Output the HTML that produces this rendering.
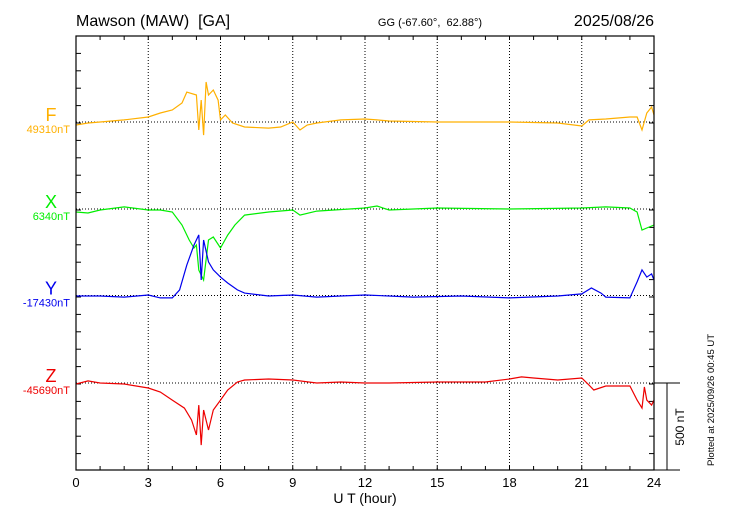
<!DOCTYPE html>
<html><head><meta charset="utf-8"><style>
body{margin:0;background:#fff;}
svg{display:block;font-family:"Liberation Sans",sans-serif;}
text{white-space:pre;}
</style></head><body>
<svg id="c" width="730" height="520" xml:space="preserve">
<text x="76" y="26" font-size="16">Mawson (MAW)  [GA]</text>
<text x="430" y="26" font-size="11" text-anchor="middle">GG (-67.60°,  62.88°)</text>
<text x="654" y="26" font-size="16" text-anchor="end">2025/08/26</text>
<text x="365" y="503" font-size="14" text-anchor="middle">U T (hour)</text>
<text transform="translate(684,427) rotate(-90)" font-size="12" text-anchor="middle">500 nT</text>
<text transform="translate(714,400) rotate(-90)" font-size="9.5" text-anchor="middle">Plotted at 2025/09/26 00:45 UT</text>
</svg>
<script>
const NS='http://www.w3.org/2000/svg';
const svg=document.getElementById('c');
const xTicks=[0,3,6,9,12,15,18,21,24];
const seriesNames=['F','X','Y','Z'];
const seriesColors=['#ffb000','#00ee00','#0000ee','#ee0000'];
const baseLabels=['49310nT','6340nT','-17430nT','-45690nT'];
const fT=[0,0.5,1,2,3,3.5,4,4.4,4.6,5,5.1,5.2,5.3,5.4,5.5,5.7,5.9,6,6.2,6.5,7,8,8.5,9,9.3,9.6,10,11,12,12.5,13,15,18,20,21,21.3,22,23,23.3,23.5,23.7,23.9,24];
const fV=[-17,-6,0,12,29,52,69,109,172,155,-46,126,-75,230,155,184,126,12,40,-6,-29,-35,-29,0,-46,-17,-6,12,17,12,6,0,0,-6,-23,12,17,29,29,-46,52,86,40];
const xT=[0,0.5,1,2,3,3.5,4,4.4,4.7,4.9,5,5.1,5.3,5.5,5.7,6,6.3,6.6,7,8,9,9.3,10,12,12.5,13,15,18,21,22,23,23.3,23.5,23.7,24];
const xV=[-17,-23,-6,12,-6,-6,-17,-92,-178,-224,-207,-351,-408,-178,-161,-224,-150,-92,-35,-17,-6,-35,-12,6,17,-6,6,0,6,12,6,-17,-121,-109,-92];
const yT=[0,1,2,3,3.5,4,4.3,4.6,4.9,5.1,5.2,5.3,5.5,5.7,6,6.3,6.7,7,8,9,10,11,12,13,14,16,18,20,21,21.4,21.8,22,23,23.3,23.5,23.7,23.9,24];
const yV=[-3,-3,-9,3,-14,-14,32,175,290,348,89,319,193,147,106,72,32,14,-3,3,-9,-3,3,-3,-9,-3,-14,-3,9,43,14,-9,-14,78,147,106,124,89];
const zT=[0,0.5,1,2,3,3.5,4,4.5,4.8,5,5.1,5.2,5.3,5.5,5.7,6,6.3,6.7,7,8,9,10,11,12,13,15,17,18,18.5,19,20,21,21.3,21.5,22,23,23.3,23.5,23.6,23.7,23.9,24];
const zV=[-6,12,0,-6,-29,-52,-98,-144,-213,-299,-127,-357,-155,-270,-155,-98,-40,6,17,23,17,0,6,0,0,6,6,23,35,29,17,29,-12,-40,-17,-17,-98,-144,-23,-98,-127,-98];
const times=[fT,xT,yT,zT], vals=[fV,xV,yV,zV];
const L=76,R=654,T=36,B=470,PXNT=87/500;
const bases=[122,209,295.5,383];
const sx=h=>L+(R-L)*h/24;
const sy=(i,v)=>bases[i]-v*PXNT;
function mk(t,a,p){const e=document.createElementNS(NS,t);for(const k in a)e.setAttribute(k,a[k]);(p||svg).appendChild(e);return e;}
xTicks.slice(1,-1).forEach(h=>{const g=mk('line',{x1:sx(h),x2:sx(h),y1:T,y2:B,stroke:'#000','stroke-dasharray':'1,2','stroke-width':1});

});
bases.forEach(b=>{const g=mk('line',{x1:L,x2:R,y1:b,y2:b,stroke:'#000','stroke-dasharray':'1,2','stroke-width':1});

});
for(let h=1;h<24;h++){mk('line',{x1:sx(h),x2:sx(h),y1:T,y2:T+4,stroke:'#000'});mk('line',{x1:sx(h),x2:sx(h),y1:B,y2:B-4,stroke:'#000'});}
for(let y=T+17.4;y<B-1;y+=17.4){mk('line',{x1:L,x2:L+5,y1:y,y2:y,stroke:'#000'});mk('line',{x1:R,x2:R-5,y1:y,y2:y,stroke:'#000'});}
xTicks.forEach(h=>{const t=mk('text',{x:sx(h),y:487,'font-size':13,'text-anchor':'middle'});t.textContent=h;

});
seriesNames.forEach((n,i)=>{
 const d=times[i].map((h,j)=>(j?'L':'M')+sx(h).toFixed(1)+','+sy(i,vals[i][j]).toFixed(1)).join('');
 const p=mk('path',{d:d,fill:'none',stroke:seriesColors[i],'stroke-width':1.2});
 
 
 const t=mk('text',{x:51,y:bases[i]-1,'font-size':18,'text-anchor':'middle',fill:seriesColors[i]});t.textContent=n;
 
 
 const b=mk('text',{x:70,y:bases[i]+11,'font-size':11,'text-anchor':'end',fill:seriesColors[i]});b.textContent=baseLabels[i];
 
 
});
const fr=mk('rect',{x:L,y:T,width:R-L,height:B-T,fill:'none',stroke:'#000','stroke-width':1.2});


mk('line',{x1:R,x2:680,y1:B,y2:B,stroke:'#000'});
mk('line',{x1:R,x2:680,y1:383,y2:383,stroke:'#000'});
const sb=mk('line',{x1:667,x2:667,y1:383,y2:B,stroke:'#000'});


</script>
</body></html>
